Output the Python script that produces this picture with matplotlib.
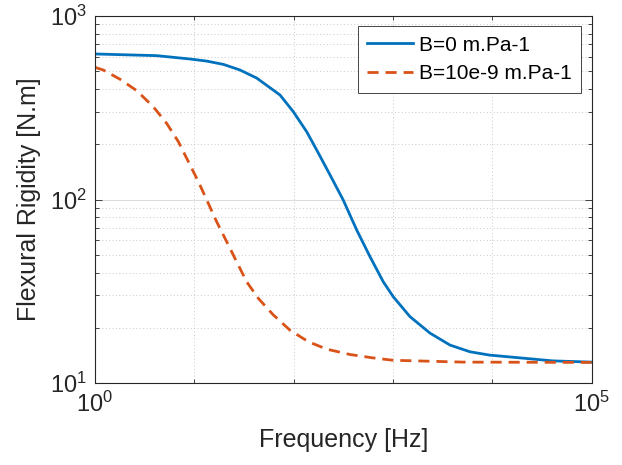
import numpy as np
import matplotlib.pyplot as plt
from matplotlib.ticker import FixedLocator, LogLocator, NullFormatter

# values (log-log)
freq_b0 = [1, 1.93, 4.18, 9.05, 13.3, 19.6, 28.8, 42.5, 73, 99.3, 135.5, 171, 233,
           316, 432, 588, 800, 1009, 1486, 2364, 3758, 5970, 9350, 40900, 1e5]
rig_b0 = [621, 615, 608, 583, 568, 545, 508, 459, 371, 301, 234, 186, 136,
          99.4, 68.2, 48.8, 35.6, 29.5, 23.0, 18.7, 16.1, 14.8, 14.2, 13.2, 13.0]

freq_b9 = [1, 1.21, 1.79, 2.63, 3.87, 5.27, 6.9, 8.71, 11.0, 13.6, 16.8, 21.2, 26.7,
           33.7, 44.2, 62.5, 92, 140.6, 215, 370, 635, 1009, 1738, 2980, 5120, 1e5]
rig_b9 = [525, 508, 452, 392, 320, 260, 207, 161, 125, 97.3, 75.7, 58.9, 45.8,
          35.6, 28.9, 23.5, 19.4, 16.8, 15.3, 14.3, 13.7, 13.3, 13.2, 13.1, 13.0, 12.95]

labels = ['B=0 m.Pa-1', 'B=10e-9 m.Pa-1']

plt.rcParams['font.family'] = ['Liberation Sans', 'DejaVu Sans']
plt.rcParams['mathtext.default'] = 'regular'

fig = plt.figure(figsize=(6.22, 4.65), dpi=100)
ax = fig.add_axes([0.1527, 0.1763, 0.7983, 0.7893])

ax.loglog(freq_b0, rig_b0, color='#0072BD', lw=2, label=labels[0])
ax.loglog(freq_b9, rig_b9, color='#D95319', lw=2, ls=(0, (4, 2.5)), label=labels[1])

ax.set_xlim(1, 1e5)
ax.set_ylim(10, 1000)

# MATLAB-style ticks: x major only at ends, decades as minor
ax.xaxis.set_major_locator(FixedLocator([1, 1e5]))
ax.xaxis.set_minor_locator(FixedLocator([10, 100, 1000, 10000]))
ax.xaxis.set_minor_formatter(NullFormatter())
ax.yaxis.set_major_locator(LogLocator(base=10, numticks=10))
ax.yaxis.set_minor_locator(LogLocator(base=10, subs=np.arange(2, 10), numticks=10))
ax.yaxis.set_minor_formatter(NullFormatter())

dark = '#262626'
ax.tick_params(which='both', direction='in', top=True, right=True, colors=dark,
               labelsize=17, width=0.6)
ax.tick_params(which='major', length=5, pad=6)
ax.tick_params(which='minor', length=3)
for s in ax.spines.values():
    s.set_color(dark)
    s.set_linewidth(0.8)

ax.grid(True, which='major', color='#dcdcdc', ls='-', lw=0.8)
ax.grid(True, which='minor', color='#c8c8c8', ls=(0, (1, 2.5)), lw=0.7)
ax.set_axisbelow(True)

ax.set_xlabel('Frequency [Hz]', fontsize=18, color=dark, labelpad=8)
ax.set_ylabel('Flexural Rigidity [N.m]', fontsize=18, color=dark, labelpad=6)

leg = ax.legend(loc='upper right', fontsize=15, fancybox=False, framealpha=1,
                borderpad=0.45, handlelength=2.2, handletextpad=0.3,
                labelspacing=0.45, borderaxespad=0.5)
leg.get_frame().set_edgecolor(dark)
leg.get_frame().set_linewidth(0.6)

plt.savefig('out.png', dpi=100)
